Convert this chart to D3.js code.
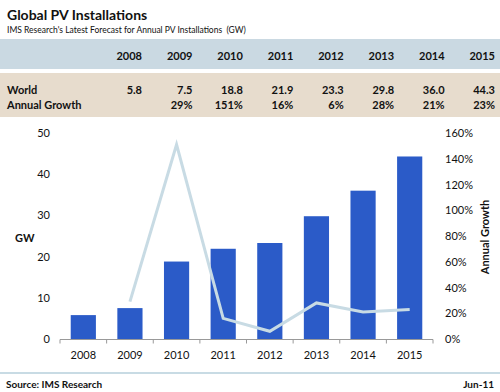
<!DOCTYPE html>
<html>
<head>
<meta charset="utf-8">
<script src="https://cdn.jsdelivr.net/npm/d3@7"></script>
<style>
  body { margin: 0; background: #fff; }
  svg text { font-family: Lato, "Open Sans", sans-serif; fill: #111; }
</style>
</head>
<body>
<svg width="500" height="392"></svg>
<script>
// data
var years = ["2008", "2009", "2010", "2011", "2012", "2013", "2014", "2015"];
var world = [5.8, 7.5, 18.8, 21.9, 23.3, 29.8, 36.0, 44.3];
var growth = [null, 29, 151, 16, 6, 28, 21, 23];
var gwTicks = [0, 10, 20, 30, 40, 50];
var pctTicks = [0, 20, 40, 60, 80, 100, 120, 140, 160];

var svg = d3.select("svg");

// header
svg.append("text").attr("x", 7).attr("y", 20)
    .style("font-size", "14px").style("font-weight", "bold")
    .text("Global PV Installations");
svg.append("text").attr("x", 7).attr("y", 33)
    .style("font-size", "8.5px").style("white-space", "pre")
    .text("IMS Research's Latest Forecast for Annual PV Installations  (GW)");

svg.append("rect").attr("x", 0).attr("y", 39).attr("width", 500).attr("height", 30).attr("fill", "#cad9e2");
svg.append("rect").attr("x", 0).attr("y", 73).attr("width", 500).attr("height", 44).attr("fill", "#e7dccd");

// table columns
var col = d3.scalePoint().domain(years).range([142, 495]);

svg.append("g").selectAll("text")
  .data(years).enter().append("text")
    .attr("x", function(d) { return col(d); })
    .attr("y", 60)
    .attr("text-anchor", "end")
    .style("font-size", "11px").style("font-weight", "bold")
    .text(function(d) { return d; });

svg.append("text").attr("x", 7).attr("y", 94).style("font-size", "11px").style("font-weight", "bold").text("World");
svg.append("text").attr("x", 7).attr("y", 109).style("font-size", "11px").style("font-weight", "bold").text("Annual Growth");

svg.append("g").selectAll("text")
  .data(world).enter().append("text")
    .attr("x", function(d, i) { return col(years[i]); })
    .attr("y", 94)
    .attr("text-anchor", "end")
    .style("font-size", "11px").style("font-weight", "bold")
    .text(function(d) { return d.toFixed(1); });

svg.append("g").selectAll("text")
  .data(growth).enter().append("text")
    .attr("x", function(d, i) { return col(years[i]); })
    .attr("y", 109)
    .attr("text-anchor", "end")
    .style("font-size", "11px").style("font-weight", "bold")
    .text(function(d) { return d == null ? "" : d + "%"; });

// chart
var x = d3.scaleBand().domain(years).range([60, 433]).paddingInner(0.46).paddingOuter(0.23);
var y = d3.scaleLinear().domain([0, 50]).range([339, 133]);
var y2 = d3.scaleLinear().domain([0, 160]).range([339, 133]);

svg.append("g").selectAll("rect")
  .data(world).enter().append("rect")
    .attr("x", function(d, i) { return x(years[i]); })
    .attr("y", function(d) { return y(d); })
    .attr("width", x.bandwidth())
    .attr("height", function(d) { return y(0) - y(d); })
    .attr("fill", "#2b5bc8");

var line = d3.line()
    .defined(function(d) { return d != null; })
    .x(function(d, i) { return x(years[i]) + x.bandwidth() / 2; })
    .y(function(d) { return y2(d); });

svg.append("path")
    .datum(growth)
    .attr("d", line)
    .attr("fill", "none")
    .attr("stroke", "#c8dbe4")
    .attr("stroke-width", 3);

// x axis with ticks between categories
var xAxis = svg.append("g").attr("transform", "translate(0,339.5)");
xAxis.append("line").attr("x1", 60).attr("x2", 433).attr("stroke", "#999");
xAxis.selectAll(".tk")
  .data(d3.range(years.length + 1)).enter().append("line")
    .attr("x1", function(d) { return 60 + d * x.step(); })
    .attr("x2", function(d) { return 60 + d * x.step(); })
    .attr("y1", 0).attr("y2", 4)
    .attr("stroke", "#999");
xAxis.selectAll("text")
  .data(years).enter().append("text")
    .attr("x", function(d) { return x(d) + x.bandwidth() / 2; })
    .attr("y", 19)
    .attr("text-anchor", "middle")
    .style("font-size", "11px")
    .text(function(d) { return d; });

// left axis
var left = svg.append("g").attr("transform", "translate(50,0)")
    .call(d3.axisLeft(y).tickValues(gwTicks).tickSize(0).tickPadding(0));
left.select(".domain").remove();
left.selectAll("text").style("font-size", "11px").style("font-family", "Lato, sans-serif").attr("fill", "#111");

svg.append("text").attr("x", 15).attr("y", 242)
    .style("font-size", "11px").style("font-weight", "bold").text("GW");

// right axis
var right = svg.append("g").attr("transform", "translate(445,0)")
    .call(d3.axisRight(y2).tickValues(pctTicks).tickSize(0).tickPadding(0)
      .tickFormat(function(d) { return d + "%"; }));
right.select(".domain").remove();
right.selectAll("text").style("font-size", "11px").style("font-family", "Lato, sans-serif").attr("fill", "#111");

svg.append("text")
    .attr("transform", "translate(489,237) rotate(-90)")
    .attr("text-anchor", "middle")
    .style("font-size", "11px").style("font-weight", "bold")
    .text("Annual Growth");

// footer
svg.append("line").attr("x1", 0).attr("x2", 500).attr("y1", 373).attr("y2", 373)
    .attr("stroke", "#c8dbe4").attr("stroke-width", 2);
svg.append("text").attr("x", 6).attr("y", 388)
    .style("font-size", "10px").style("font-weight", "bold").text("Source: IMS Research");
svg.append("text").attr("x", 494).attr("y", 388).attr("text-anchor", "end")
    .style("font-size", "10px").style("font-weight", "bold").text("Jun-11");
</script>
</body>
</html>
